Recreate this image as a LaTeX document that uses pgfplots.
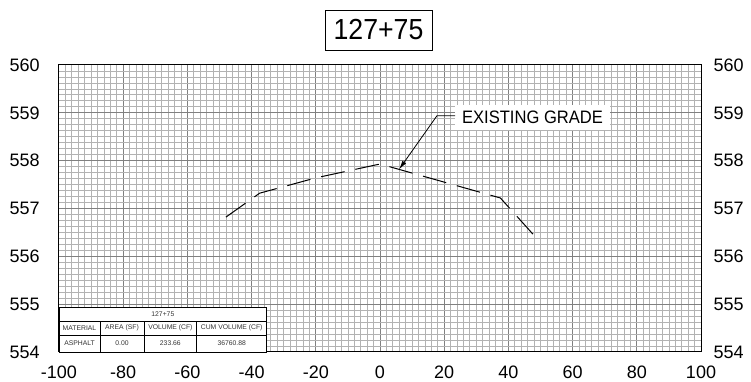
\documentclass[border=0pt]{standalone}
\usepackage{pgfplots}
\pgfplotsset{compat=1.18}
\usetikzlibrary{arrows.meta}
\usepackage{fontspec}
\setmainfont{Liberation Sans}
\newfontfamily\narrowfont[FakeStretch=0.92]{Liberation Sans}
\begin{document}
\begin{tikzpicture}
\begin{axis}[
  at={(0,0)}, anchor=south west,
  scale only axis, width=642pt, height=287pt,
  xmin=-100, xmax=100, ymin=554, ymax=560,
  xtick={-100,-80,...,100}, ytick={554,555,...,560},
  minor x tick num=9, minor y tick num=7,
  grid=both,
  major grid style={draw=gray!100, line width=1pt},
  minor grid style={draw=gray!60, line width=0.8pt},
  major tick length=0pt, minor tick length=0pt,
  axis line style={black, line width=1pt},
  /pgf/number format/assume math mode=true,
  ticklabel style={font=\fontsize{18}{18}\selectfont},
  xticklabel style={yshift=-10pt},
  yticklabel style={xshift=-15.7pt},
]
\addplot[black, line width=1pt, dash pattern=on 24pt off 11pt] coordinates {
  (-48,556.82) (-37.5,557.32) (-20,557.64) (0,557.93) (37.5,557.22) (48.5,556.40)
};
\end{axis}
\begin{axis}[
  at={(0,0)}, anchor=south west,
  scale only axis, width=642pt, height=287pt,
  xmin=-100, xmax=100, ymin=554, ymax=560,
  hide x axis, axis y line*=right,
  ytick={554,555,...,560}, yticklabel pos=right,
  major tick length=0pt, minor tick length=0pt,
  axis line style={black, line width=1pt},
  /pgf/number format/assume math mode=true,
  ticklabel style={font=\fontsize{18}{18}\selectfont},
  yticklabel style={xshift=9pt},
]
\addplot[draw=none] coordinates {(0,557)};
\end{axis}
% title
\node[draw, line width=0.8pt, minimum width=107pt, minimum height=40pt, inner sep=0pt,
  font=\narrowfont\fontsize{29}{29}\selectfont] at (319.5pt,322pt) {127+75};
% annotation
\node[fill=white, inner sep=0pt, minimum width=155pt, minimum height=25pt,
  font=\narrowfont\fontsize{18}{18}\selectfont] at (473.5pt,234.5pt) {EXISTING GRADE};
\draw[line width=0.8pt, -{Latex[length=9pt,width=4.5pt]}] (396pt,236.3pt) -- (378pt,236.3pt) -- (340pt,182.5pt);
% table
\fill[white] (0pt,0pt) rectangle (207.7pt,44.7pt);
\draw[line width=0.6pt] (0pt,0pt) rectangle (207.7pt,44.7pt);
\draw[line width=0.6pt] (0pt,17pt) -- (207.7pt,17pt);
\draw[line width=0.6pt] (0pt,31pt) -- (207.7pt,31pt);
\foreach \xx in {41,85,137.7} {\draw[line width=0.6pt] (\xx pt,0pt) -- (\xx pt,31pt);}
\begin{scope}[every node/.style={font=\fontsize{6.8}{7}\selectfont, text=black!80, inner sep=0pt}]
\node at (103.85pt,37.85pt) {127+75};
\node at (20.5pt,24pt) {MATERIAL};
\node at (63pt,24pt) {AREA (SF)};
\node at (111.35pt,24pt) {VOLUME (CF)};
\node at (172.7pt,24pt) {CUM VOLUME (CF)};
\node at (20.5pt,8.5pt) {ASPHALT};
\node at (63pt,8.5pt) {0.00};
\node at (111.35pt,8.5pt) {233.66};
\node at (172.7pt,8.5pt) {36760.88};
\end{scope}
\pgfresetboundingbox
\useasboundingbox (-59pt,-30pt) rectangle (692pt,352pt);
\end{tikzpicture}
\end{document}
